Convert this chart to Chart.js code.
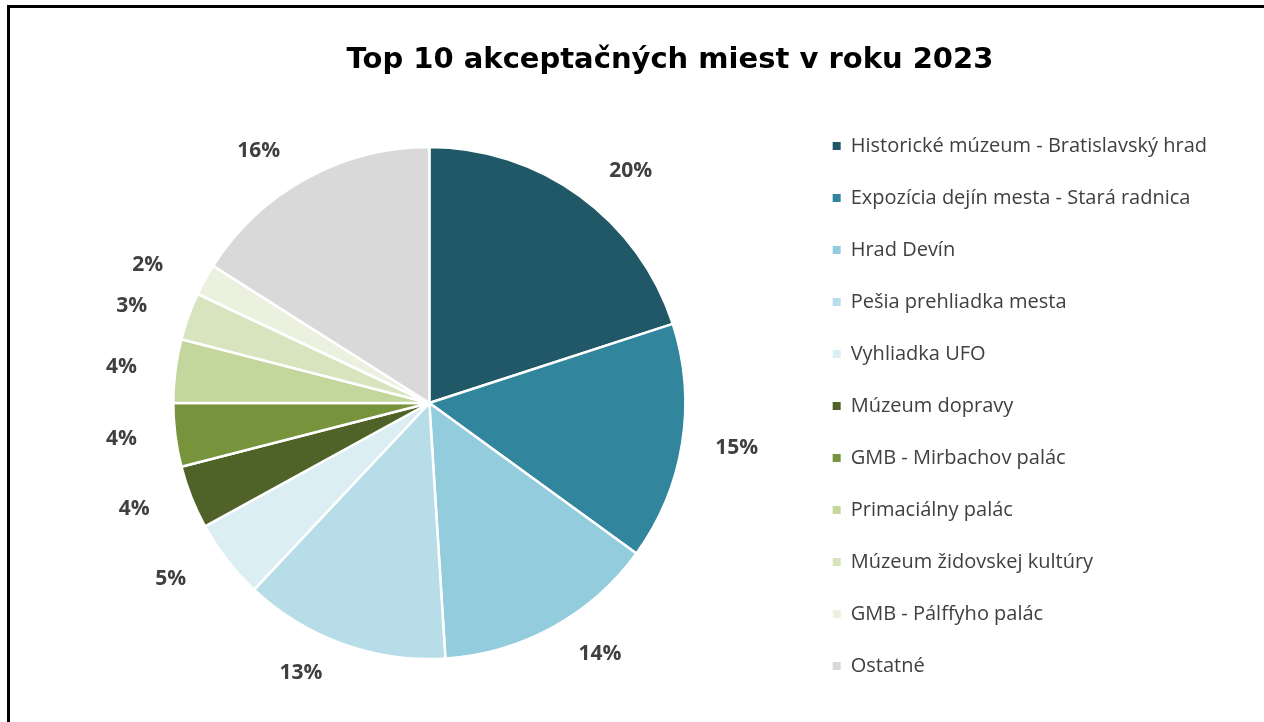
<!DOCTYPE html>
<html>
<head>
<meta charset="utf-8">
<title>Top 10 akceptačných miest v roku 2023</title>
<script src="https://cdn.jsdelivr.net/npm/chart.js@4.4.1/dist/chart.umd.min.js"></script>
<style>
  html, body { margin: 0; padding: 0; background: #fff; overflow: hidden; }
  #obal { position: relative; width: 1264px; height: 722px; }
  #ramik { position: absolute; left: 7px; top: 5px; right: -10px; bottom: -10px;
           border-left: 3px solid #000; border-top: 3px solid #000; pointer-events: none; }
  #graf { position: absolute; left: 0; top: 0; }
</style>
</head>
<body>
<div id="obal">
  <canvas id="graf" width="1264" height="722"></canvas>
  <div id="ramik"></div>
</div>
<script>
// data z grafu
var nazov = 'Top 10 akceptačných miest v roku 2023'
var miesta = [
    'Historické múzeum - Bratislavský hrad',
    'Expozícia dejín mesta - Stará radnica',
    'Hrad Devín',
    'Pešia prehliadka mesta',
    'Vyhliadka UFO',
    'Múzeum dopravy',
    'GMB - Mirbachov palác',
    'Primaciálny palác',
    'Múzeum židovskej kultúry',
    'GMB - Pálffyho palác',
    'Ostatné'
]
var podiely = [20, 15, 14, 13, 5, 4, 4, 4, 3, 2, 16]
var farby = ['#215868', '#31859c', '#93cddd', '#b7dee8', '#dbeef4',
    '#4f6228', '#77933c', '#c3d69b', '#d7e4bd', '#ebf1de', '#d9d9d9']

// nadpis a percenta okolo kolaca (ako v exceli - mimo koncov vysekov)
var popisky = {
    id: 'popisky',
    afterDraw: function (chart) {
        var ctx = chart.ctx
        ctx.save()
        ctx.textAlign = 'center'
        ctx.textBaseline = 'alphabetic'
        ctx.font = 'bold 29px "DejaVu Sans"'
        ctx.fillStyle = '#000'
        ctx.fillText(nazov, 670, 68)

        ctx.textBaseline = 'middle'
        ctx.font = 'bold 21px "Open Sans"'
        ctx.fillStyle = '#404040'
        chart.getDatasetMeta(0).data.forEach(function (arc, i) {
            var p = arc.getProps(['x', 'y', 'startAngle', 'endAngle', 'outerRadius'], true)
            var uhol = (p.startAngle + p.endAngle) / 2
            var s = Math.cos(uhol)
            var c = Math.sin(uhol)
            var x = p.x + s * (p.outerRadius + 51) + Math.sign(s) * 26 * Math.abs(c)
            var y = p.y + c * (p.outerRadius + 31)
            ctx.fillText(podiely[i] + '%', x, y)
        })
        ctx.restore()
    }
}

var graf = new Chart(document.getElementById('graf'), {
    type: 'pie',
    data: {
        labels: miesta,
        datasets: [{
            data: podiely,
            backgroundColor: farby,
            borderColor: '#fff',
            borderWidth: 2.5,
            radius: 256
        }]
    },
    options: {
        responsive: false,
        animation: false,
        layout: { padding: { left: 58, right: 47, top: 98, bottom: 14 } },
        plugins: {
            legend: {
                position: 'right',
                align: 'end',
                labels: {
                    boxWidth: 8,
                    boxHeight: 8,
                    padding: 32,
                    color: '#404040',
                    font: { family: 'Open Sans', size: 20 },
                    generateLabels: function (chart) {
                        var polozky = Chart.overrides.pie.plugins.legend.labels.generateLabels(chart)
                        polozky.forEach(function (p) {
                            p.lineWidth = 0
                            p.strokeStyle = p.fillStyle
                        })
                        return polozky
                    }
                }
            },
            tooltip: { enabled: false }
        }
    },
    plugins: [popisky]
})
</script>
</body>
</html>
